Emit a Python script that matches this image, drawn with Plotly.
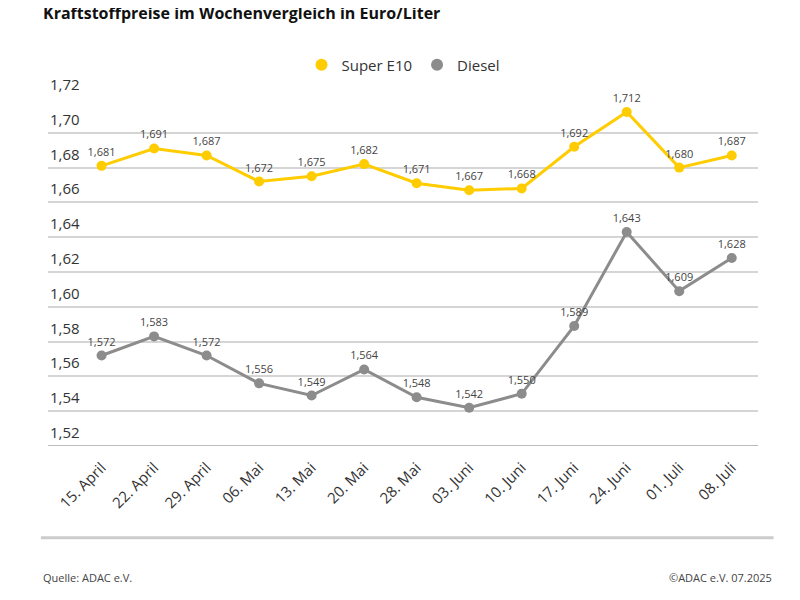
import plotly.graph_objects as go

dates = ['15. April', '22. April', '29. April', '06. Mai', '13. Mai', '20. Mai', '28. Mai',
         '03. Juni', '10. Juni', '17. Juni', '24. Juni', '01. Juli', '08. Juli']
super_e10 = [1.681, 1.691, 1.687, 1.672, 1.675, 1.682, 1.671, 1.667, 1.668, 1.692, 1.712, 1.680, 1.687]
diesel = [1.572, 1.583, 1.572, 1.556, 1.549, 1.564, 1.548, 1.542, 1.550, 1.589, 1.643, 1.609, 1.628]
y_ticks = [1.52, 1.54, 1.56, 1.58, 1.60, 1.62, 1.64, 1.66, 1.68, 1.70, 1.72]

FONT = 'Open Sans'
idx = list(range(len(dates)))

def fmt(v, n=3):
    return f'{v:.{n}f}'.replace('.', ',')

fig = go.Figure()
for name, vals, col in [('Super E10', super_e10, '#FFCC00'), ('Diesel', diesel, '#8C8C8C')]:
    fig.add_trace(go.Scatter(
        x=idx, y=vals, name=name, mode='lines+markers+text', showlegend=False,
        line=dict(color=col, width=3), marker=dict(color=col, size=10),
        text=[fmt(v) for v in vals], textposition='top center',
        textfont=dict(size=11, color='#444', family=FONT),
        cliponaxis=False,
    ))
    # legend entry: circle only
    fig.add_trace(go.Scatter(x=[None], y=[None], name=name, mode='markers',
                             marker=dict(color=col, size=18)))

for t in y_ticks:
    fig.add_annotation(x=0, xref='paper', y=t, yref='y', text=fmt(t, 2), showarrow=False,
                       xanchor='left', yanchor='bottom', yshift=2,
                       font=dict(size=15, color='#333', family=FONT))

fig.add_annotation(x=-0.01, xref='paper', y=1.245, yref='paper', yanchor='middle', xanchor='left',
                   text='<b>Kraftstoffpreise im Wochenvergleich in Euro/Liter</b>', showarrow=False,
                   font=dict(size=16, color='#111', family=FONT))
fig.add_annotation(x=-0.01, xref='paper', y=-0.379, yref='paper', xanchor='left', yanchor='middle',
                   text='Quelle: ADAC e.V.', showarrow=False, font=dict(size=11, color='#444', family=FONT))
fig.add_annotation(x=1.022, xref='paper', y=-0.379, yref='paper', xanchor='right', yanchor='middle',
                   text='©ADAC e.V. 07.2025', showarrow=False, font=dict(size=11, color='#444', family=FONT))
fig.add_shape(type='line', xref='paper', yref='paper', x0=-0.01, x1=1.022, y0=-0.264, y1=-0.264,
              line=dict(color='#cccccc', width=3))

fig.update_layout(
    width=800, height=600, plot_bgcolor='white', paper_bgcolor='white',
    margin=dict(l=40, r=50, t=90, b=162),
    font=dict(family=FONT, color='#333'),
    showlegend=True,
    legend=dict(orientation='h', x=0.5, xanchor='center', y=1.095, yanchor='middle',
                font=dict(size=15, color='#333'), itemsizing='constant'),
    xaxis=dict(range=[-1.02, 12.5], tickvals=idx, ticktext=dates, tickangle=-45,
               tickfont=dict(size=15, color='#333'), showgrid=False, zeroline=False,
               showline=False, ticks='outside', ticklen=6, tickcolor='white'),
    yaxis=dict(range=[1.52, 1.72], tickvals=y_ticks, showticklabels=False,
               gridcolor='#d5d5d5', gridwidth=1.5, zeroline=False, showline=False),
)
fig.add_shape(type='line', xref='paper', yref='y', x0=0, x1=1, y0=1.52, y1=1.52,
              line=dict(color='#bbbbbb', width=2))

fig.write_html('out.html')
